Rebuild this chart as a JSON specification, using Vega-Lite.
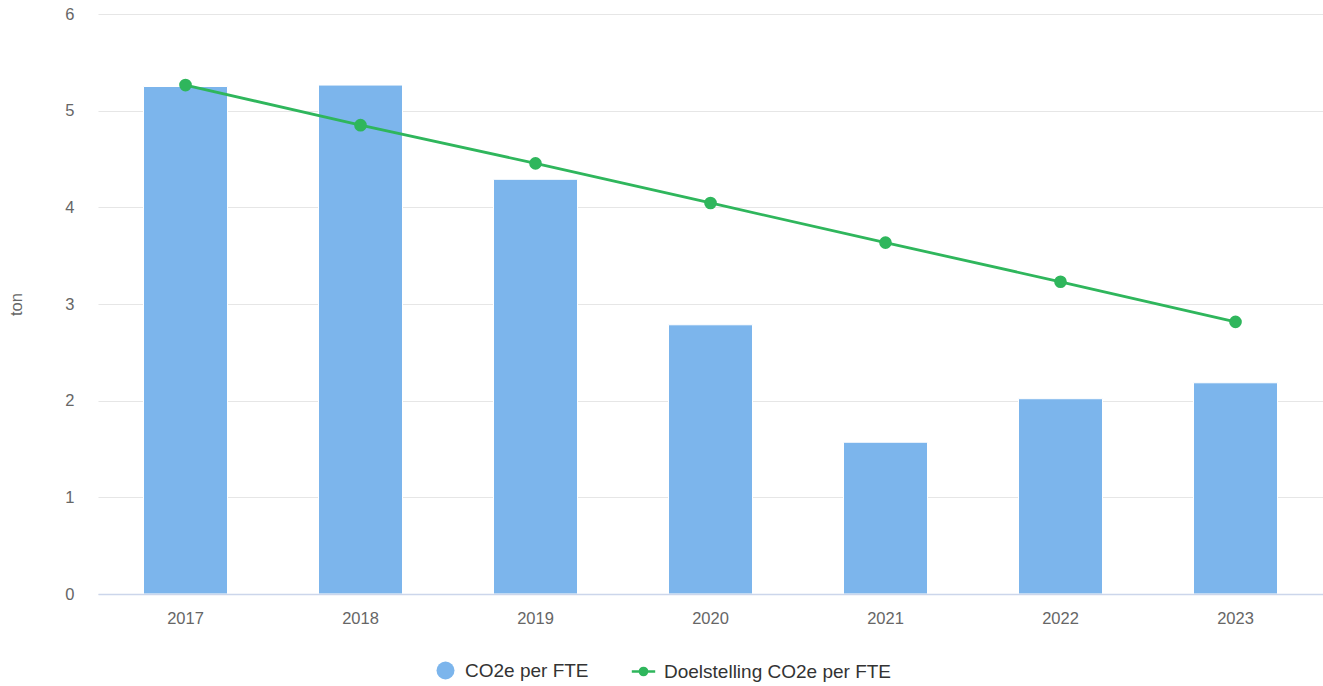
{
  "$schema": "https://vega.github.io/schema/vega-lite/v6.json",
  "width": 1225,
  "height": 580,
  "autosize": "none",
  "padding": {"left": 98, "top": 14, "right": 0, "bottom": 92},
  "background": "white",
  "config": {
    "font": "Liberation Sans",
    "view": {"stroke": null},
    "axis": {"labelColor": "#666666", "titleColor": "#666666", "labelFont": "Liberation Sans", "titleFont": "Liberation Sans"},
    "legend": {"labelFontSize": 19, "labelColor": "#333333", "labelFont": "Liberation Sans", "labelLimit": 0, "labelOffset": 10, "symbolSize": 324}
  },
  "data": {
    "values": [
      {"year": "2017", "co2": 5.25, "goal": 5.265},
      {"year": "2018", "co2": 5.265, "goal": 4.85},
      {"year": "2019", "co2": 4.29, "goal": 4.455},
      {"year": "2020", "co2": 2.785, "goal": 4.045},
      {"year": "2021", "co2": 1.57, "goal": 3.635},
      {"year": "2022", "co2": 2.02, "goal": 3.23},
      {"year": "2023", "co2": 2.185, "goal": 2.815}
    ]
  },
  "encoding": {
    "x": {
      "field": "year",
      "type": "ordinal",
      "scale": {"paddingInner": 0.52, "paddingOuter": 0.26},
      "axis": {
        "title": null,
        "labelAngle": 0,
        "labelFontSize": 16.5,
        "labelPadding": 16,
        "ticks": false,
        "domainColor": "#ccd6eb",
        "domainWidth": 1.5,
        "grid": false,
        "zindex": 1
      }
    }
  },
  "resolve": {"scale": {"color": "independent"}},
  "layer": [
    {
      "mark": {"type": "bar", "stroke": "white", "strokeWidth": 1},
      "encoding": {
        "y": {
          "field": "co2",
          "type": "quantitative",
          "scale": {"domain": [0, 6], "nice": false},
          "axis": {
            "title": "ton",
            "titleFontSize": 16.5,
            "titleFontWeight": "normal",
            "titlePadding": 40,
            "labelFontSize": 16.5,
            "labelPadding": 24,
            "format": "d",
            "values": [0, 1, 2, 3, 4, 5, 6],
            "ticks": false,
            "domain": false,
            "gridColor": "#e6e6e6",
            "gridWidth": 1.2
          }
        },
        "color": {
          "datum": "CO2e per FTE",
          "type": "nominal",
          "scale": {"range": ["#7cb5ec"]},
          "legend": {
            "title": null,
            "orient": "none",
            "legendX": 338,
            "legendY": 647,
            "symbolType": "circle",
            "symbolSize": 324,
            "symbolStrokeWidth": 0
          }
        }
      }
    },
    {
      "layer": [
        {
          "mark": {"type": "line", "strokeWidth": 2.8},
          "encoding": {
            "y": {"field": "goal", "type": "quantitative"},
            "color": {
              "datum": "Doelstelling CO2e per FTE",
              "type": "nominal",
              "scale": {"range": ["#2fb65c"]},
              "legend": {
                "title": null,
                "orient": "none",
                "legendX": 535,
                "legendY": 647,
                "symbolSize": 324,
                "symbolType": "M-1.3,0H1.3M-0.4,0A0.4,0.4 0 1,0 0.4,0A0.4,0.4 0 1,0 -0.4,0Z",
                "symbolStrokeWidth": 2.5,
                "symbolStrokeColor": "#2fb65c",
                "symbolFillColor": "#2fb65c"
              }
            }
          }
        },
        {
          "mark": {"type": "point", "filled": true, "size": 160, "opacity": 1},
          "encoding": {
            "y": {"field": "goal", "type": "quantitative"},
            "color": {"datum": "Doelstelling CO2e per FTE", "type": "nominal"}
          }
        }
      ]
    }
  ]
}
